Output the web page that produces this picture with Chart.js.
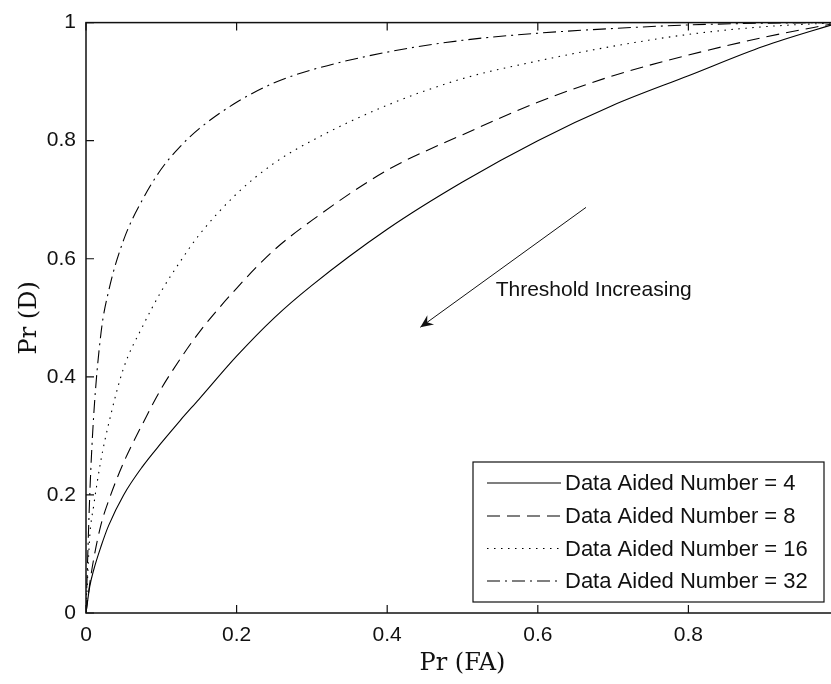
<!DOCTYPE html>
<html>
<head>
<meta charset="utf-8">
<script src="https://cdn.jsdelivr.net/npm/chart.js@4"></script>
<style>
  html, body { margin:0; padding:0; background:#fff; overflow:hidden; }
  #wrap { width:831px; height:684px; overflow:hidden; position:relative; }
  canvas { display:block; }
</style>
</head>
<body>
<div id="wrap"><canvas id="rocChart" width="846" height="684"></canvas></div>
<script>
// =======================
// DATA
// =======================
const pfa = [0, 0.005, 0.01, 0.02, 0.03, 0.05, 0.075, 0.1, 0.125, 0.15, 0.2, 0.25, 0.3, 0.4, 0.5, 0.6, 0.7, 0.8, 0.9, 1];

const pdN4  = [0, 0.045, 0.072, 0.113, 0.148, 0.2, 0.248, 0.288, 0.326, 0.362, 0.435, 0.5, 0.555, 0.65, 0.73, 0.80, 0.86, 0.91, 0.96, 1];
const pdN8  = [0, 0.05, 0.09, 0.15, 0.19, 0.255, 0.32, 0.38, 0.43, 0.475, 0.55, 0.615, 0.665, 0.75, 0.81, 0.865, 0.91, 0.945, 0.975, 1];
const pdN16 = [0, 0.13, 0.18, 0.26, 0.32, 0.415, 0.485, 0.545, 0.595, 0.64, 0.71, 0.762, 0.80, 0.86, 0.905, 0.935, 0.96, 0.98, 0.993, 1];
const pdN32 = [0, 0.2, 0.33, 0.475, 0.545, 0.632, 0.70, 0.752, 0.79, 0.82, 0.865, 0.898, 0.92, 0.95, 0.97, 0.982, 0.99, 0.996, 0.999, 1];

const seriesLabels = ["Data Aided Number = 4", "Data Aided Number = 8", "Data Aided Number = 16", "Data Aided Number = 32"];
const xTickLabels = ["0", "0.2", "0.4", "0.6", "0.8"];
const yTickLabels = ["0", "0.2", "0.4", "0.6", "0.8", "1"];

// annotation (data coordinates)
const arrowFrom = {x:0.664, y:0.687};
const arrowTo   = {x:0.444, y:0.484};
const noteText  = "Threshold Increasing";
const notePos   = {x:0.544, y:0.546};

// =======================
// HELPERS
// =======================
function toPoints(ys){
  return pfa.map((x,i)=>({x:x, y:ys[i]}));
}

function makeSet(label, ys, dash){
  return {
    label: label,
    data: toPoints(ys),
    borderColor: "#000",
    borderWidth: 1.1,
    borderDash: dash,
    pointRadius: 0,
    fill: false,
    cubicInterpolationMode: "monotone"
  };
}

const SANS = "'Liberation Sans', Arial, sans-serif";
const SERIF = "'DejaVu Serif', serif";

// box + inward ticks, matlab style
const framePlugin = {
  id: "frame",
  afterDatasetsDraw(chart){
    const {ctx, chartArea:a, scales} = chart;
    ctx.save();
    ctx.strokeStyle = "#111";
    ctx.lineWidth = 1.5;
    ctx.setLineDash([]);
    ctx.strokeRect(a.left, a.top, a.right - a.left, a.bottom - a.top);

    const tl = 8;
    ctx.lineWidth = 1.2;
    ctx.beginPath();
    scales.x.ticks.forEach(t=>{
      const px = scales.x.getPixelForValue(t.value);
      ctx.moveTo(px, a.bottom); ctx.lineTo(px, a.bottom - tl);
      ctx.moveTo(px, a.top); ctx.lineTo(px, a.top + tl);
    });
    scales.y.ticks.forEach(t=>{
      const py = scales.y.getPixelForValue(t.value);
      ctx.moveTo(a.left, py); ctx.lineTo(a.left + tl, py);
      ctx.moveTo(a.right, py); ctx.lineTo(a.right - tl, py);
    });
    ctx.stroke();
    ctx.restore();
  },
  afterDraw(chart){
    const {ctx, scales} = chart;
    ctx.save();

    // arrow
    const x1 = scales.x.getPixelForValue(arrowFrom.x), y1 = scales.y.getPixelForValue(arrowFrom.y);
    const x2 = scales.x.getPixelForValue(arrowTo.x),   y2 = scales.y.getPixelForValue(arrowTo.y);
    ctx.strokeStyle = "#111";
    ctx.fillStyle = "#111";
    ctx.lineWidth = 1;
    ctx.setLineDash([]);
    ctx.beginPath();
    ctx.moveTo(x1, y1); ctx.lineTo(x2, y2);
    ctx.stroke();
    const ang = Math.atan2(y2 - y1, x2 - x1);
    const hl = 14, hw = 0.42;
    ctx.beginPath();
    ctx.moveTo(x2, y2);
    ctx.lineTo(x2 - hl*Math.cos(ang - hw), y2 - hl*Math.sin(ang - hw));
    ctx.lineTo(x2 - hl*0.6*Math.cos(ang), y2 - hl*0.6*Math.sin(ang));
    ctx.lineTo(x2 - hl*Math.cos(ang + hw), y2 - hl*Math.sin(ang + hw));
    ctx.closePath();
    ctx.fill();

    ctx.font = "21px " + SANS;
    ctx.textBaseline = "middle";
    ctx.textAlign = "left";
    ctx.fillText(noteText, scales.x.getPixelForValue(notePos.x), scales.y.getPixelForValue(notePos.y));

    // legend box
    const L = 473, T = 462, R = 824, B = 602;
    ctx.fillStyle = "#fff";
    ctx.fillRect(L, T, R - L, B - T);
    ctx.strokeStyle = "#111";
    ctx.lineWidth = 1.2;
    ctx.strokeRect(L, T, R - L, B - T);

    const rowY = [483, 516, 548.5, 581];
    ctx.font = "22px " + SANS;
    chart.data.datasets.forEach((ds,i)=>{
      ctx.strokeStyle = "#000";
      ctx.lineWidth = 1.1;
      ctx.setLineDash(ds.borderDash);
      ctx.beginPath();
      ctx.moveTo(487, rowY[i]); ctx.lineTo(561, rowY[i]);
      ctx.stroke();
      ctx.setLineDash([]);
      ctx.fillStyle = "#111";
      ctx.fillText(ds.label, 565, rowY[i] + 1);
    });
    ctx.restore();
  }
};

// =======================
// CHART
// =======================
const rocChart = new Chart(document.getElementById("rocChart"), {
  type: "line",
  data: {
    datasets: [
      makeSet(seriesLabels[0], pdN4, []),
      makeSet(seriesLabels[1], pdN8, [13, 7]),
      makeSet(seriesLabels[2], pdN16, [1.5, 5.5]),
      makeSet(seriesLabels[3], pdN32, [13, 5, 2, 5])
    ]
  },
  options: {
    responsive: false,
    animation: false,
    devicePixelRatio: 1,
    layout: { padding: { top: 18, right: 7, left: 0, bottom: 0 } },
    plugins: { legend: { display: false }, tooltip: { enabled: false } },
    scales: {
      x: {
        type: "linear",
        min: 0, max: 1,
        grid: { display: false, drawTicks: false },
        border: { display: false },
        ticks: {
          stepSize: 0.2,
          includeBounds: false,
          padding: 10,
          color: "#111",
          font: { family: SANS, size: 21 },
          maxRotation: 0,
          callback: (v, i) => xTickLabels[i]
        },
        title: {
          display: true,
          text: "Pr (FA)",
          color: "#111",
          font: { family: SERIF, size: 24 },
          padding: { top: 0, bottom: 6 }
        },
        afterFit(scale){ scale.height = 71; }
      },
      y: {
        min: 0, max: 1,
        grid: { display: false, drawTicks: false },
        border: { display: false },
        ticks: {
          stepSize: 0.2,
          padding: 10,
          color: "#111",
          font: { family: SANS, size: 21 },
          callback: (v, i) => yTickLabels[i]
        },
        title: {
          display: true,
          text: "Pr (D)",
          color: "#111",
          font: { family: SERIF, size: 24 },
          padding: { top: 15, bottom: 0 }
        },
        afterFit(scale){ scale.width = 86; }
      }
    }
  },
  plugins: [framePlugin]
});
</script>
</body>
</html>
